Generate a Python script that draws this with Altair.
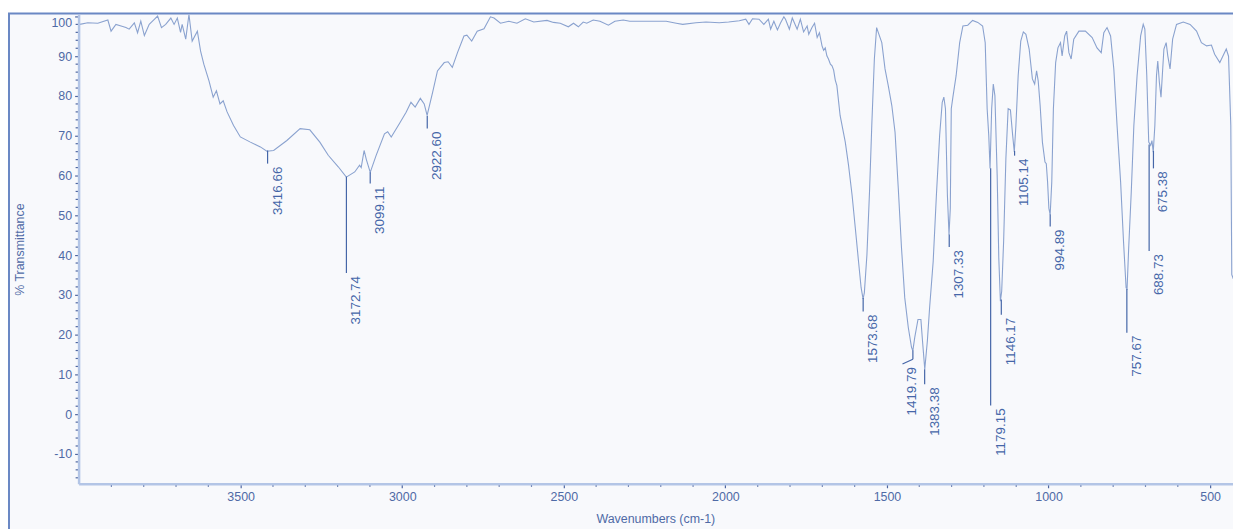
import altair as alt
import pandas as pd

# ---- spectrum (wavenumber cm-1, % transmittance) ----
WN = [3998, 3973, 3942, 3911, 3901, 3886, 3870, 3855, 3845, 3829, 3819, 3809, 3798, 3783,
      3768, 3757, 3745, 3732, 3716, 3706, 3696, 3686, 3681, 3670, 3660, 3650, 3634, 3624,
      3614, 3598, 3585, 3575, 3564, 3554, 3542, 3522, 3501, 3470, 3439, 3419, 3398, 3357,
      3316, 3286, 3255, 3229, 3198, 3173, 3147, 3132, 3127, 3118, 3111, 3099, 3081, 3055,
      3045, 3034, 3009, 2988, 2973, 2960, 2944, 2932, 2923, 2906, 2891, 2870, 2858, 2845,
      2829, 2809, 2800, 2785, 2768, 2747, 2727, 2716, 2696, 2670, 2645, 2619, 2593, 2552,
      2532, 2511, 2486, 2470, 2455, 2440, 2429, 2409, 2388, 2362, 2342, 2316, 2296, 2245,
      2183, 2152, 2132, 2091, 2060, 2019, 1990, 1957, 1937, 1927, 1916, 1896, 1881, 1867,
      1860, 1850, 1839, 1829, 1819, 1814, 1802, 1793, 1778, 1768, 1758, 1747, 1742, 1732,
      1724, 1716, 1709, 1701, 1696, 1691, 1686, 1681, 1675, 1670, 1665, 1660, 1655, 1645,
      1629, 1619, 1608, 1598, 1588, 1580, 1574, 1570, 1562, 1554, 1547, 1539, 1532, 1527,
      1516, 1506, 1496, 1485, 1475, 1465, 1455, 1445, 1434, 1424, 1420, 1414, 1404, 1395,
      1390, 1383, 1375, 1368, 1357, 1347, 1337, 1329, 1324, 1319, 1313, 1308, 1304, 1301,
      1296, 1286, 1275, 1265, 1250, 1235, 1219, 1204, 1196, 1190, 1185, 1181, 1176, 1171,
      1166, 1159, 1154, 1149, 1145, 1139, 1132, 1125, 1118, 1111, 1106, 1101, 1094, 1086,
      1078, 1070, 1060, 1050, 1043, 1037, 1032, 1026, 1019, 1011, 1007, 1003, 999, 995,
      990, 985, 978, 971, 963, 958, 950, 944, 937, 930, 922, 906, 886, 865, 850, 837, 829,
      819, 808, 798, 788, 777, 768, 760, 757, 752, 744, 736, 726, 715, 707, 702, 696, 690,
      684, 680, 676, 671, 666, 662, 657, 652, 648, 643, 636, 631, 624, 616, 604, 583, 562,
      542, 527, 511, 496, 486, 470, 460, 450, 443, 436, 433, 428]
T = [98.0, 98.4, 98.3, 99.1, 96.3, 98.0, 97.6, 97.2, 96.8, 98.4, 95.9, 98.8, 95.2, 98.0,
     99.2, 100.1, 97.2, 98.0, 99.6, 98.0, 99.6, 96.0, 98.0, 94.3, 100.5, 93.8, 96.3, 91.3,
     88.0, 83.8, 79.7, 81.3, 78.0, 78.8, 76.0, 72.6, 69.7, 68.4, 67.2, 66.1, 66.3, 68.8,
     71.8, 71.5, 68.4, 65.1, 62.2, 59.6, 60.9, 62.6, 62.0, 66.3, 64.0, 60.8, 65.0, 70.5,
     71.0, 69.7, 73.0, 75.9, 78.4, 77.2, 79.4, 78.0, 75.1, 80.9, 86.3, 88.4, 88.6, 87.2,
     90.9, 95.1, 95.3, 93.8, 96.3, 96.9, 99.9, 99.6, 98.3, 98.8, 98.3, 99.4, 98.6, 99.0,
     98.5, 98.3, 97.4, 98.3, 97.4, 98.6, 98.3, 99.1, 98.8, 97.8, 98.8, 99.1, 98.8, 98.8,
     98.8, 98.3, 98.0, 98.4, 98.6, 98.4, 98.6, 98.9, 99.3, 98.0, 99.4, 99.3, 98.0, 99.3,
     96.8, 98.8, 96.6, 98.4, 99.9, 99.3, 96.8, 99.6, 96.8, 99.3, 96.1, 97.6, 95.5, 97.2,
     98.3, 94.7, 95.9, 92.6, 91.5, 92.1, 90.1, 89.3, 88.0, 87.6, 86.5, 84.0, 82.6, 75.1,
     68.4, 62.6, 55.1, 46.8, 38.4, 31.8, 29.0, 30.5, 40.1, 55.9, 72.6, 89.3, 97.2, 96.0,
     93.4, 86.8, 82.6, 77.6, 70.9, 56.8, 41.8, 29.3, 21.8, 16.8, 15.9, 19.3, 23.8, 23.8,
     18.4, 11.3, 18.4, 26.8, 38.4, 55.1, 70.1, 78.4, 79.7, 76.8, 55.1, 45.1, 51.8, 76.8,
     79.7, 85.1, 93.4, 97.6, 97.8, 99.0, 98.5, 97.6, 93.4, 76.8, 70.1, 61.8, 76.8, 83.0,
     80.1, 60.1, 39.3, 28.4, 30.9, 43.4, 64.3, 76.8, 76.5, 70.1, 65.9, 72.6, 85.1, 93.8,
     96.1, 95.5, 91.8, 84.3, 83.0, 86.3, 83.8, 77.6, 68.4, 63.4, 63.0, 58.4, 51.8, 50.1,
     58.4, 76.8, 88.4, 92.1, 93.4, 90.1, 95.1, 96.3, 90.9, 89.3, 94.3, 96.3, 96.3, 94.7,
     92.1, 90.9, 95.9, 97.2, 95.1, 86.8, 72.6, 58.4, 43.4, 31.8, 31.5, 41.8, 55.9, 72.6,
     85.1, 95.1, 98.0, 96.8, 85.1, 68.4, 67.6, 68.8, 65.9, 72.6, 85.1, 88.8, 83.4, 79.7,
     85.1, 91.8, 93.4, 90.1, 86.8, 94.3, 98.0, 98.6, 98.0, 96.3, 93.4, 92.6, 92.8, 90.5,
     88.4, 90.1, 91.8, 90.0, 72.6, 35.1, 34.0]

# ---- peak picks ----
PEAK_LABELS = ["3416.66", "3172.74", "3099.11", "2922.60", "1573.68", "1419.79", "1383.38",
               "1307.33", "1179.15", "1146.17", "1105.14", "994.89", "757.67", "688.73", "675.38"]
PEAK_WN = [3416.66, 3172.74, 3099.11, 2922.60, 1573.68, 1419.79, 1383.38,
           1307.33, 1179.15, 1146.17, 1105.14, 994.89, 757.67, 688.73, 675.38]
PEAK_T = [66.3, 59.7, 60.8, 75.0, 29.2, 16.0, 11.3, 45.2, 61.8, 28.8, 66.2, 50.2, 31.5, 67.8, 66.2]
TICK_END = [63.0, 35.5, 58.0, 71.8, 25.8, 13.8, 7.5, 42.0, 2.2, 25.0, 65.0, 47.2, 20.5, 41.0, 61.8]
LABEL_WN = [3416.66, 3172.74, 3099.11, 2922.60, 1573.68, 1452.0, 1383.38,
            1307.33, 1179.15, 1146.17, 1105.14, 994.89, 757.67, 688.73, 675.38]
LABEL_T = [63.0, 35.5, 58.0, 71.8, 25.8, 12.6, 7.5, 42.0, 2.2, 25.0, 65.0, 47.2, 20.5, 41.0, 61.8]

# ---- axis ticks ----
X_MAJOR = [500, 1000, 1500, 2000, 2500, 3000, 3500]
X_MINOR = [v for v in range(500, 4001, 100) if v % 500 != 0]
Y_MAJOR = [-10, 0, 10, 20, 30, 40, 50, 60, 70, 80, 90, 100]
Y_MINOR = [v for v in range(-16, 101, 2) if v % 10 != 0]

spec = pd.DataFrame({"wn": WN, "t": T})
peaks = pd.DataFrame({"wn": PEAK_WN, "t0": PEAK_T, "t1": TICK_END,
                      "lw": LABEL_WN, "lt": LABEL_T, "label": PEAK_LABELS})

FONT = "Liberation Sans"
LABEL_COL = "#4f6aa6"
CURVE_COL = "#8aa2cf"
PEAK_COL = "#4566a8"
TICK_COL = "#4d65a0"

xscale = alt.Scale(domain=[429.2, 4001.5], reverse=True, nice=False, zero=False)
yscale = alt.Scale(domain=[-17.5, 100.5], nice=False, zero=False)

xaxis = alt.Axis(
    values=X_MAJOR, labelExpr="datum.value + ''", zindex=2, labelOverlap=False,
    tickSize=4, labelPadding=3, grid=False,
    title="Wavenumbers (cm-1)", titleX=580, titleY=35,
    titleBaseline="middle", titleAlign="center",
)
yaxis = alt.Axis(
    values=Y_MAJOR, labelExpr="datum.value + ''", zindex=2, labelOverlap=False,
    tickSize=4, labelPadding=3, grid=False, labelFlush=6,
    title="% Transmittance", titleX=-59, titleY=236, titleAngle=270,
    titleBaseline="middle", titleAlign="center",
)


def X(field):
    return alt.X(field, scale=xscale, axis=xaxis)


def Y(field):
    return alt.Y(field, scale=yscale, axis=yaxis)


frame = alt.Chart(pd.DataFrame({"k": [0]})).mark_rect(
    fill="#f8f9fc", stroke="#6a88c4", strokeWidth=2
).encode(
    x=alt.value(-70), x2=alt.value(1250), y=alt.value(-1), y2=alt.value(600)
)

line = alt.Chart(spec).mark_line(color=CURVE_COL, strokeWidth=1.1, clip=True).encode(
    x=X("wn:Q"), y=Y("t:Q"),
)

xminor = alt.Chart(pd.DataFrame({"v": X_MINOR})).mark_rule(
    color=TICK_COL, strokeWidth=1.2
).encode(x=X("v:Q"), y=alt.value(472), y2=alt.value(475))

yminor = alt.Chart(pd.DataFrame({"v": Y_MINOR})).mark_rule(
    color=TICK_COL, strokeWidth=1.2
).encode(y=Y("v:Q"), x=alt.value(-3), x2=alt.value(0))

ticks = alt.Chart(peaks).mark_rule(color=PEAK_COL, strokeWidth=1.2).encode(
    x=X("wn:Q"), y=Y("t0:Q"), y2="t1:Q"
)
leaders = alt.Chart(peaks).mark_rule(color=PEAK_COL, strokeWidth=1.2).encode(
    x=X("wn:Q"), x2="lw:Q", y=Y("t1:Q"), y2="lt:Q"
)
labels = alt.Chart(peaks).mark_text(
    angle=270, align="right", baseline="top", dx=-3, dy=3,
    font=FONT, fontSize=13.5, color=PEAK_COL
).encode(
    x=X("lw:Q"), y=Y("lt:Q"), text="label:N"
)

chart = alt.layer(frame, line, ticks, leaders, labels, xminor, yminor).properties(
    width=1161, height=472,
    padding={"left": 71, "top": 5, "right": 0, "bottom": 44},
    autosize="none", background="white",
).configure_view(stroke=None).configure_axis(
    labelFont=FONT, labelFontSize=12.5, labelColor=LABEL_COL,
    titleFont=FONT, titleFontSize=12.5, titleColor=LABEL_COL, titleFontWeight="normal",
    domainColor="#b3c5e6", domainWidth=2.5, tickColor=TICK_COL, tickWidth=1.2,
)

chart.save("out.html", embed_options={"renderer": "svg", "actions": False})
